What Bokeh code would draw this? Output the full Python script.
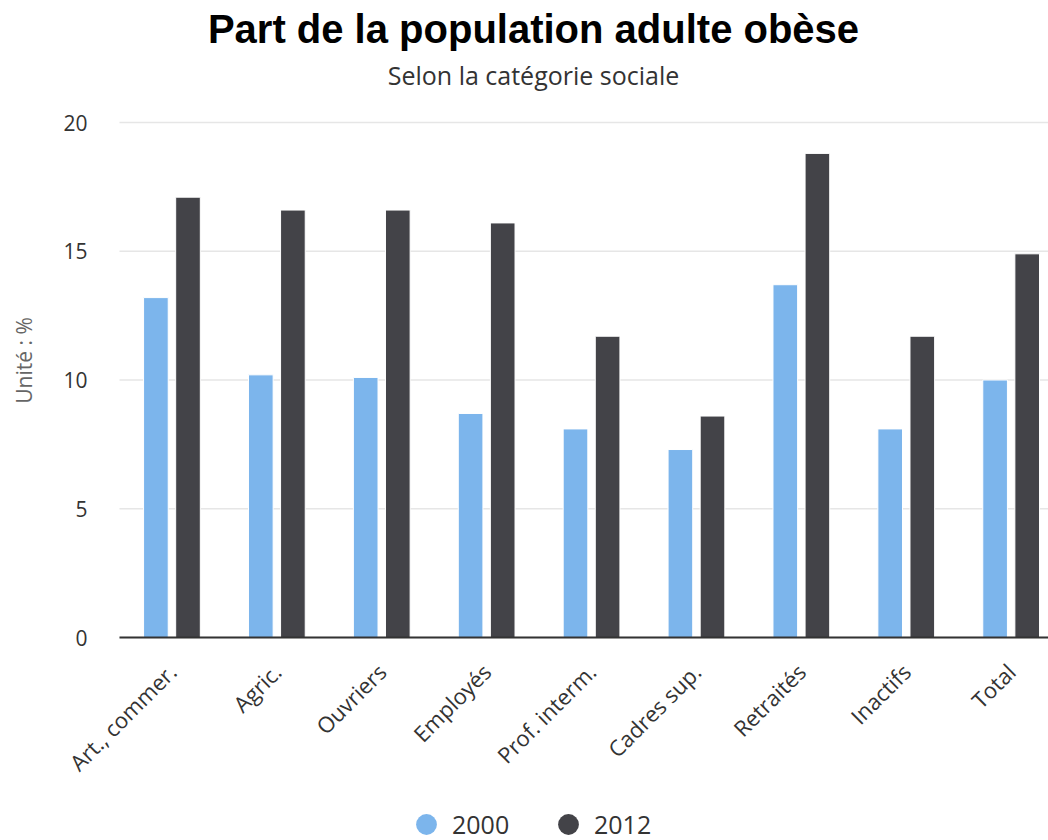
import numpy as np
from bokeh.plotting import figure
from bokeh.models import (ColumnDataSource, Range1d, FixedTicker, Legend, LegendItem, Label)
from bokeh.transform import dodge
from bokeh.embed import file_html
from bokeh.resources import INLINE

title_text = "Part de la population adulte obèse"
subtitle_text = "Selon la catégorie sociale"
y_label = "Unité : %"
categories = ["Art., commer.", "Agric.", "Ouvriers", "Employés", "Prof. interm.",
              "Cadres sup.", "Retraités", "Inactifs", "Total"]
val_2000 = [13.2, 10.2, 10.1, 8.7, 8.1, 7.3, 13.7, 8.1, 10.0]
val_2012 = [17.1, 16.6, 16.6, 16.1, 11.7, 8.6, 18.8, 11.7, 14.9]
series_names = ["2000", "2012"]
colors = ["#7cb5ec", "#434348"]
y_ticks = [0, 5, 10, 15, 20]

W, H = 1048, 840
plot_left, plot_top, plot_bottom = 119, 122, 637
px_per_cat = 104.9
px_per_unit = (plot_bottom - plot_top) / 20.0
x_end = (W - plot_left) / px_per_cat
x_start = -plot_left / px_per_cat
y_start = -(H - plot_bottom) / px_per_unit
y_end = 20 + plot_top / px_per_unit

xpos = [i + 0.5 for i in range(len(categories))]
src = ColumnDataSource(dict(x=xpos, v2000=val_2000, v2012=val_2012))
grid_src = ColumnDataSource(dict(y=y_ticks, x0=[0] * len(y_ticks), x1=[x_end] * len(y_ticks)))

p = figure(width=W, height=H, output_backend="svg", toolbar_location=None,
           x_range=Range1d(x_start, x_end), y_range=Range1d(y_start, y_end),
           min_border_left=0, min_border_right=0, min_border_top=0, min_border_bottom=0)
p.title = None
p.outline_line_color = None
p.background_fill_color = "white"
p.xgrid.grid_line_color = None
p.ygrid.grid_line_color = None

# horizontal grid lines at the y ticks, limited to the plot area
p.segment(x0="x0", x1="x1", y0="y", y1="y", source=grid_src,
          line_color="#e6e6e6", line_width=1.5)

r1 = p.vbar(x=dodge("x", -0.153, range=p.x_range), top="v2000", bottom=0, width=0.235,
            source=src, fill_color=colors[0], line_color="white", line_width=1)
r2 = p.vbar(x=dodge("x", 0.153, range=p.x_range), top="v2012", bottom=0, width=0.235,
            source=src, fill_color=colors[1], line_color="white", line_width=1)

# x axis
p.xaxis.fixed_location = 0
p.xaxis.bounds = (0, x_end)
p.xaxis.ticker = FixedTicker(ticks=xpos)
p.xaxis.major_label_overrides = {x: c for x, c in zip(xpos, categories)}
p.xaxis.major_label_orientation = np.pi / 4
p.xaxis.major_label_text_font = "Open Sans"
p.xaxis.major_label_text_font_size = "22px"
p.xaxis.major_label_text_color = "#333333"
p.xaxis.major_tick_line_color = None
p.xaxis.minor_tick_line_color = None
p.xaxis.axis_line_color = "#333333"
p.xaxis.axis_line_width = 2
p.xaxis.major_label_standoff = 24

# y axis
p.yaxis.fixed_location = 0
p.yaxis.bounds = (0, 21.5)
p.yaxis.ticker = FixedTicker(ticks=y_ticks)
p.yaxis.axis_line_color = None
p.yaxis.major_tick_line_color = None
p.yaxis.minor_tick_line_color = None
p.yaxis.major_label_text_font = "Open Sans"
p.yaxis.major_label_text_font_size = "21px"
p.yaxis.major_label_text_color = "#333333"
p.yaxis.major_label_standoff = 26
p.yaxis.axis_label = y_label
p.yaxis.axis_label_text_font = "Open Sans"
p.yaxis.axis_label_text_font_size = "21px"
p.yaxis.axis_label_text_font_style = "normal"
p.yaxis.axis_label_text_color = "#666666"
p.yaxis.axis_label_standoff = 22

# titles
p.add_layout(Label(x=533, y=H - 28, x_units="screen", y_units="screen",
                   text=title_text, text_align="center", text_baseline="alphabetic",
                   text_font="Liberation Sans", text_font_size="40px",
                   text_font_style="bold", text_color="#000000"))
p.add_layout(Label(x=533, y=H - 74, x_units="screen", y_units="screen",
                   text=subtitle_text, text_align="center", text_baseline="alphabetic",
                   text_font="Open Sans", text_font_size="25px",
                   text_color="#333333"))

# legend with circle markers (the markers themselves have zero size on the chart)
d1 = p.scatter(x="x", y="v2000", source=src, marker="circle", size=0,
               fill_color=colors[0], line_color=None)
d2 = p.scatter(x="x", y="v2012", source=src, marker="circle", size=0,
               fill_color=colors[1], line_color=None)
legend = Legend(items=[LegendItem(label=series_names[0], renderers=[d1]),
                       LegendItem(label=series_names[1], renderers=[d2])],
                orientation="horizontal", location=(400, -10),
                glyph_width=52, glyph_height=52, label_height=24,
                label_standoff=0, spacing=0,
                label_width=90, padding=0, margin=0, border_line_color=None,
                background_fill_alpha=0,
                label_text_font="Open Sans", label_text_font_size="25px",
                label_text_color="#333333")
p.add_layout(legend, "center")

open("out.html", "w").write(file_html(p, INLINE))
